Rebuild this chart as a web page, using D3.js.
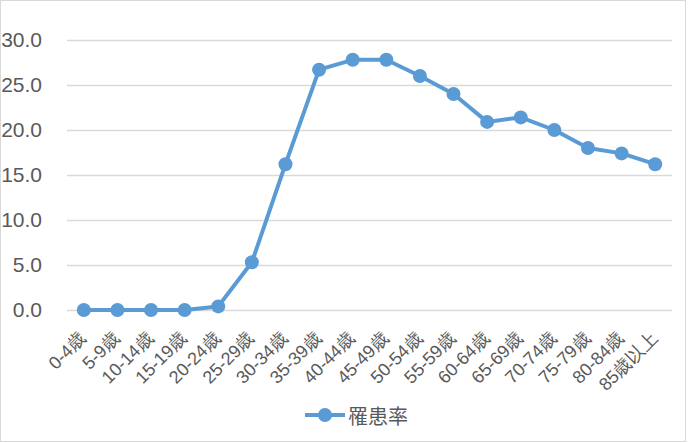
<!DOCTYPE html>
<html>
<head>
<meta charset="utf-8">
<script src="https://cdn.jsdelivr.net/npm/d3@7"></script>
<style>
  body { margin: 0; background: #fff; }
  svg { display: block; font-family: "Noto Sans CJK JP", "Noto Sans", sans-serif; }
</style>
</head>
<body>
<div id="chart"></div>
<script>
var categories = ['0-4歳', '5-9歳', '10-14歳', '15-19歳', '20-24歳', '25-29歳', '30-34歳', '35-39歳',
    '40-44歳', '45-49歳', '50-54歳', '55-59歳', '60-64歳', '65-69歳', '70-74歳', '75-79歳', '80-84歳', '85歳以上'];
var rates = [0, 0, 0, 0, 0.4, 5.3, 16.2, 26.7, 27.8, 27.8, 26.0, 24.0, 20.9, 21.4, 20.0, 18.0, 17.4, 16.2];
var y_ticks = [0, 5, 10, 15, 20, 25, 30];
var series_name = '罹患率';

var total_width = 690;
var total_height = 443;
var margin = {top: 40, right: 18, bottom: 133, left: 67};
var width = total_width - margin.left - margin.right;
var height = total_height - margin.top - margin.bottom;

var line_color = '#5B9BD5';
var text_color = '#595959';
var grid_color = '#D9D9D9';

var root = d3.select('#chart')
    .append('svg')
        .attr('width', total_width)
        .attr('height', total_height);

// outer chart border
root.append('rect')
    .attr('x', 0.5)
    .attr('y', 0.5)
    .attr('width', 685)
    .attr('height', 441)
    .attr('fill', 'none')
    .attr('stroke', grid_color)
    .attr('stroke-width', 1);

var svg = root.append('g')
    .attr('transform', 'translate(' + margin.left + ',' + margin.top + ')');

var x_scale = d3.scaleBand()
    .domain(categories)
    .range([0, width]);

var y_scale = d3.scaleLinear()
    .domain([0, 30])
    .range([height, 0]);

//Grid
svg.append('g')
    .attr('class', 'grid')
    .selectAll('line')
    .data(y_ticks)
    .enter()
    .append('line')
        .attr('x1', 0)
        .attr('x2', width)
        .attr('y1', function(d) {return Math.round(y_scale(d)) + 0.5;})
        .attr('y2', function(d) {return Math.round(y_scale(d)) + 0.5;})
        .attr('stroke', grid_color)
        .attr('stroke-width', 1.3);

//Axis
var y_axis = d3.axisLeft(y_scale)
    .tickValues(y_ticks)
    .tickFormat(d3.format('.1f'))
    .tickSize(0)
    .tickPadding(25);

svg.append('g')
    .attr('class', 'y-axis')
    .call(y_axis)
    .call(function(g) {g.select('.domain').remove();})
    .selectAll('text')
        .attr('fill', text_color)
        .style('font-size', '21px');

var x_axis = d3.axisBottom(x_scale).tickSize(0);

svg.append('g')
    .attr('class', 'x-axis')
    .attr('transform', 'translate(0,' + height + ')')
    .call(x_axis)
    .call(function(g) {g.select('.domain').remove();})
    .selectAll('text')
        .attr('fill', text_color)
        .attr('dy', null)
        .attr('y', 0)
        .attr('transform', 'translate(0,26)rotate(-45)')
        .style('font-size', '18px')
        .style('text-anchor', 'end')
        .attr('dominant-baseline', 'middle');

//Line
var line = d3.line()
    .x(function(d, i) {return x_scale(categories[i]) + x_scale.bandwidth() / 2;})
    .y(function(d) {return y_scale(d);});

svg.append('path')
    .datum(rates)
    .attr('d', line)
    .attr('fill', 'none')
    .attr('stroke', line_color)
    .attr('stroke-width', 4)
    .attr('stroke-linejoin', 'round');

svg.selectAll('.dot')
    .data(rates)
    .enter()
    .append('circle')
        .attr('class', 'dot')
        .attr('cx', function(d, i) {return x_scale(categories[i]) + x_scale.bandwidth() / 2;})
        .attr('cy', function(d) {return y_scale(d);})
        .attr('r', 7)
        .attr('fill', line_color);

//Legend
var legend = root.append('g')
    .attr('transform', 'translate(305,415)');

legend.append('line')
    .attr('x1', 0)
    .attr('x2', 40)
    .attr('y1', 0)
    .attr('y2', 0)
    .attr('stroke', line_color)
    .attr('stroke-width', 4);

legend.append('circle')
    .attr('cx', 20)
    .attr('cy', 0)
    .attr('r', 7)
    .attr('fill', line_color);

legend.append('text')
    .attr('x', 43)
    .attr('y', 0)
    .attr('dominant-baseline', 'central')
    .attr('fill', text_color)
    .style('font-size', '20px')
    .text(series_name);
</script>
</body>
</html>
